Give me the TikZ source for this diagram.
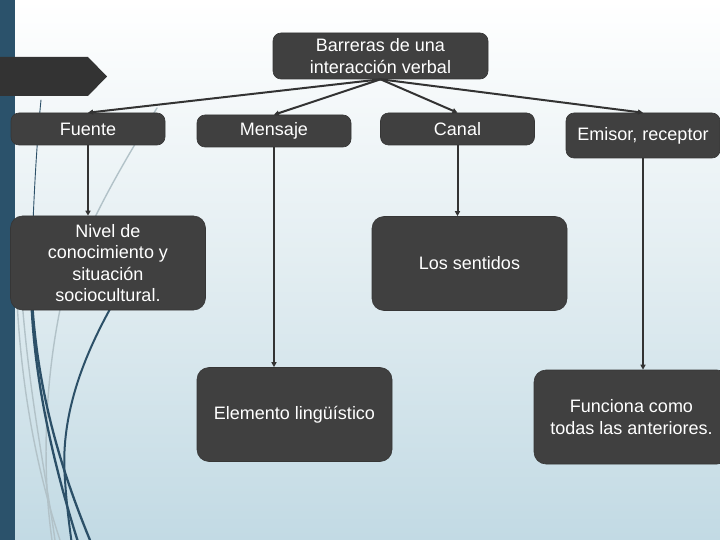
\documentclass[tikz,border=0pt]{standalone}
\usepackage{fontspec}
\setmainfont{Liberation Sans}
\usetikzlibrary{arrows.meta}
\definecolor{boxc}{RGB}{64,64,64}
\definecolor{pentc}{RGB}{51,51,51}
\definecolor{stripc}{RGB}{43,82,107}
\definecolor{decoc}{RGB}{44,80,104}
\definecolor{decogray}{RGB}{178,194,200}
\definecolor{arrc}{RGB}{51,51,51}
\definecolor{bgbot}{RGB}{194,218,228}
\definecolor{bgmid}{RGB}{226,237,241}
\begin{document}
\begin{tikzpicture}[x=1pt,y=-1pt,
  box/.style={fill=boxc, draw=boxc!85!black, line width=0.6pt, rounded corners=8pt,
    text=white, font=\fontsize{18}{21.5}\selectfont, align=center, inner sep=0pt},
  bigbox/.style={box, rounded corners=12pt, minimum width=195pt, minimum height=94pt},
  smallbox/.style={box, minimum width=154pt, minimum height=32pt},
  link/.style={draw=arrc, line width=2pt, -{Triangle[length=5pt,width=5pt]}},
  decoblue/.style={draw=decoc, line cap=round},
  decogrey/.style={draw=decogray, line width=1.4pt, line cap=round}]
\useasboundingbox (0,0) rectangle (720,540);
\clip (0,0) rectangle (720,540);
% background
\shade[top color=white, bottom color=bgbot, middle color=bgmid] (0,0) rectangle (720,540);
% decorative lines
\draw[decogrey] (157,108) .. controls (125,160) and (70,250) .. (58,320) .. controls (45,390) and (42,470) .. (52,540);
\draw[decogrey] (17,300) .. controls (22,400) and (40,480) .. (60,540);
\draw[decogrey] (22,300) .. controls (30,400) and (45,470) .. (55,540);
\draw[decoblue, line width=0.9pt] (41,100) .. controls (37,140) and (34,190) .. (32,250);
\draw[decoblue, line width=2.3pt] (31,290) .. controls (33,380) and (55,470) .. (79,545);
\draw[decoblue, line width=2.3pt] (32,300) .. controls (38,400) and (65,480) .. (92,545);
\draw[decoblue, line width=2pt] (118,295) .. controls (80,360) and (60,420) .. (65,480) .. controls (67,510) and (70,530) .. (72,545);
% left strip
\fill[stripc] (0,0) rectangle (15,540);
% pentagon
\fill[pentc] (0,57) -- (88,57) -- (107,76.5) -- (88,96) -- (0,96) -- cycle;
% nodes
\node[box, minimum width=215pt, minimum height=46pt] (top) at (380.5,56) {Barreras de una\\interacción verbal};
\node[smallbox] (fuente) at (88,129) {Fuente};
\node[smallbox] (mensaje) at (274,131) {Mensaje};
\node[smallbox] (canal) at (457.5,129) {Canal};
\node[box, minimum width=154pt, minimum height=45pt] (emisor) at (643,135.5) {Emisor, receptor};
\node[bigbox] (nivel) at (108,263) {Nivel de\\conocimiento y\\situación\\sociocultural.};
\node[bigbox] (sentidos) at (469.5,263.5) {Los sentidos};
\node[bigbox] (elemento) at (294.5,414.5) {Elemento lingüístico};
\node[bigbox] (funciona) at (631.5,417) {Funciona como\\todas las anteriores.};
% connectors
\draw[link] (top.south) -- (fuente.north);
\draw[link] (top.south) -- (mensaje.north);
\draw[link] (top.south) -- (canal.north);
\draw[link] (top.south) -- (emisor.north);
\draw[link] (fuente.south) -- (fuente.south |- nivel.north);
\draw[link] (mensaje.south) -- (mensaje.south |- elemento.north);
\draw[link] (canal.south) -- (canal.south |- sentidos.north);
\draw[link] (emisor.south) -- (emisor.south |- funciona.north);
\end{tikzpicture}
\end{document}
